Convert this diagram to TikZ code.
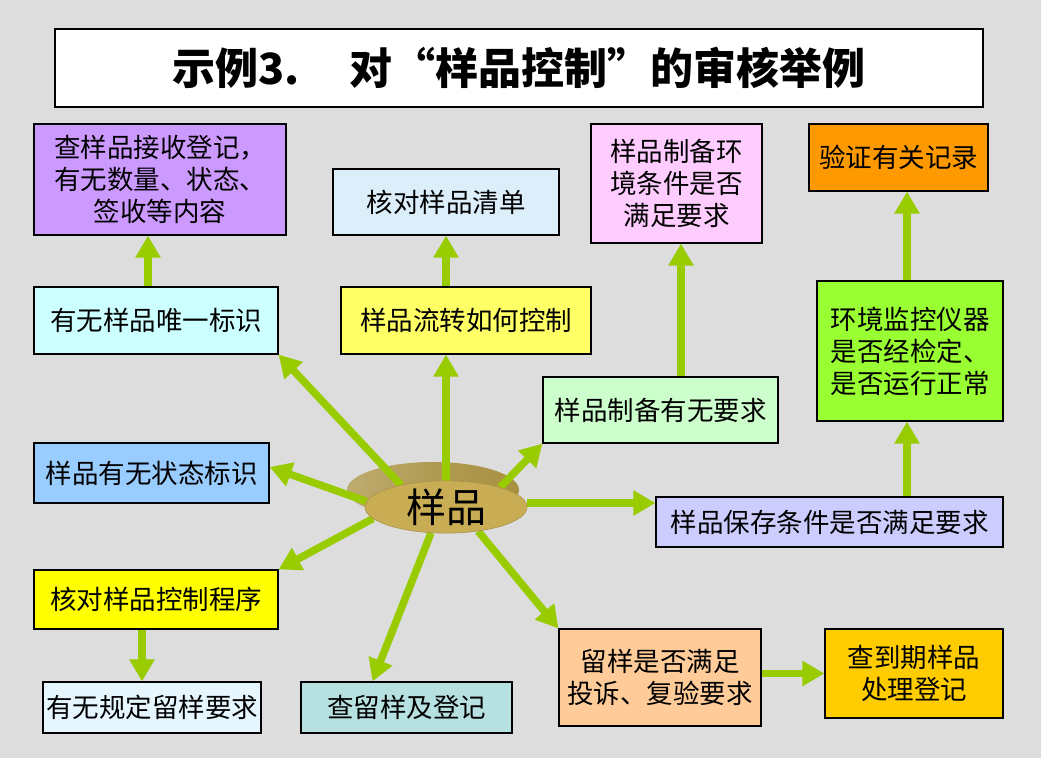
\documentclass[tikz,border=0pt]{standalone}
\usepackage{fontspec}
\setmainfont{Noto Sans CJK SC}
\usetikzlibrary{arrows.meta,calc,shapes.geometric}
\pgfdeclarelayer{back}
\pgfdeclarelayer{bg}
\pgfdeclarelayer{mid}
\pgfsetlayers{back,bg,mid,main}
\definecolor{bgc}{HTML}{DDDDDD}
\definecolor{arrg}{HTML}{99CC00}
\definecolor{cp1}{HTML}{CC99FF}
\definecolor{cqd}{HTML}{DDEEFB}
\definecolor{cenv}{HTML}{FFCCFF}
\definecolor{cyz}{HTML}{FF9900}
\definecolor{cwy}{HTML}{CCFFFF}
\definecolor{clz}{HTML}{FFFF66}
\definecolor{czb}{HTML}{CCFFCC}
\definecolor{cjk}{HTML}{99FF33}
\definecolor{czt}{HTML}{99CCFF}
\definecolor{cbc}{HTML}{CCCCFF}
\definecolor{ckz}{HTML}{FFFF00}
\definecolor{cgd}{HTML}{E6F6FF}
\definecolor{ccl}{HTML}{B7E0E0}
\definecolor{cly}{HTML}{FFCC99}
\definecolor{cdq}{HTML}{FFCC00}
\definecolor{diskfront}{HTML}{C9AD55}
\definecolor{diskback}{HTML}{A89040}
\begin{document}
\begin{tikzpicture}[x=1pt,y=-1pt,
  box/.style={draw=black, line width=1.2pt, rectangle, inner sep=0pt, align=center,
    font=\fontsize{26.5}{32}\selectfont},
  arr/.style={draw=arrg, line width=7.5pt, -{Triangle[length=22pt,width=24pt]}}]
\begin{pgfonlayer}{back}
\fill[bgc] (0,0) rectangle (1041,758);
\end{pgfonlayer}
\useasboundingbox (0,0) rectangle (1041,758);

% title
\node[box, fill=white, minimum width=928pt, minimum height=78pt,
  font=\fontsize{43}{43}\selectfont\bfseries] (title) at (519,68)
  {示例3.\hspace{50pt}对“样品控制”的审核举例};

% boxes
\node[box, fill=cp1, minimum width=252pt, minimum height=111pt] (p1) at (160,179.5)
  {查样品接收登记，\\有无数量、状态、\\签收等内容};
\node[box, fill=cqd, minimum width=226pt, minimum height=66pt] (qd) at (446,202) {核对样品清单};
\node[box, fill=cenv, minimum width=171pt, minimum height=119pt] (env) at (676.5,183.5)
  {样品制备环\\境条件是否\\满足要求};
\node[box, fill=cyz, minimum width=179pt, minimum height=67pt] (yz) at (898.5,157.5) {验证有关记录};
\node[box, fill=cwy, minimum width=244pt, minimum height=67pt] (wy) at (156,320.5) {有无样品唯一标识};
\node[box, fill=clz, minimum width=250pt, minimum height=67pt] (lz) at (466,320.5) {样品流转如何控制};
\node[box, fill=czb, minimum width=235pt, minimum height=66pt] (zb) at (660.5,410) {样品制备有无要求};
\node[box, fill=cjk, minimum width=186pt, minimum height=140pt] (jk) at (910,351)
  {环境监控仪器\\是否经检定、\\是否运行正常};
\node[box, fill=czt, minimum width=235pt, minimum height=60pt] (zt) at (151.5,473) {样品有无状态标识};
\node[box, fill=cbc, minimum width=347pt, minimum height=50pt] (bc) at (829.5,522) {样品保存条件是否满足要求};
\node[box, fill=ckz, minimum width=244pt, minimum height=59pt] (kz) at (156,599.5) {核对样品控制程序};
\node[box, fill=cgd, minimum width=218pt, minimum height=51pt] (gd) at (152,707.5) {有无规定留样要求};
\node[box, fill=ccl, minimum width=211pt, minimum height=51pt] (cl) at (406.5,707.5) {查留样及登记};
\node[box, fill=cly, minimum width=202pt, minimum height=97pt] (ly) at (660,677.5)
  {留样是否满足\\投诉、复验要求};
\node[box, fill=cdq, minimum width=178pt, minimum height=89pt] (dq) at (914,673.5)
  {查到期样品\\处理登记};

% central disk
\node[ellipse, fill=diskfront, draw=diskfront!85!black, line width=0.6pt,
  minimum width=162pt, minimum height=50pt, inner sep=0pt,
  font=\fontsize{40}{40}\selectfont] (yp) at (446,507) {样品};
\begin{pgfonlayer}{bg}
  \shade[left color=diskback!75!white, right color=diskback, middle color=diskback!90!white]
    (433,490) ellipse [x radius=86pt, y radius=28pt];
\end{pgfonlayer}

% arrows
\begin{pgfonlayer}{mid}
  \draw[arr] (yp.north) -- (yp.north |- lz.south);
  \draw[arr] (yp.154) -- (wy.south east);
  \draw[arr] (yp.20) -- (zb.south west);
  \draw[arr] ([yshift=4pt]yp.east) -- ([yshift=4pt]yp.east -| bc.west);
  \draw[arr] (yp.-37) -- (ly.north west);
  \draw[arr] (yp.-120) -- ([xshift=-34pt]cl.north);
  \draw[arr] (yp.189) -- (kz.north east);
  \draw[arr] (yp.176) -- ([yshift=6pt]zt.east);
  \draw[arr] (lz.north -| qd.south) -- (qd.south);
  \draw[arr] ([xshift=-8pt]wy.north) -- ([xshift=-8pt]wy.north |- p1.south);
  \draw[arr] ([xshift=4.5pt]env.south |- zb.north) -- ([xshift=4.5pt]env.south);
  \draw[arr] ([xshift=-3pt]jk.south |- bc.north) -- ([xshift=-3pt]jk.south);
  \draw[arr] ([xshift=-3pt]jk.north) -- ([xshift=-3pt]jk.north |- yz.south);
  \draw[arr] (ly.east |- dq.west) -- (dq.west);
  \draw[arr] ([xshift=-14pt]kz.south) -- ([xshift=-14pt]kz.south |- gd.north);
\end{pgfonlayer}
\end{tikzpicture}
\end{document}
